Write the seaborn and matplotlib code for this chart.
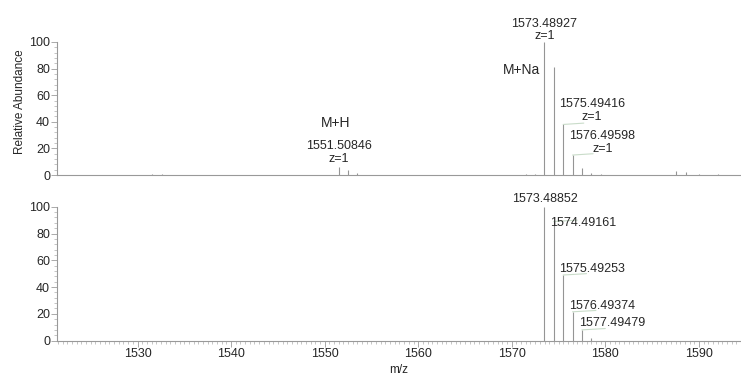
import numpy as np
import matplotlib.pyplot as plt
import seaborn as sns
from matplotlib.ticker import MultipleLocator

# measured spectrum (top) - m/z and relative abundance
top_mz = [1531.6, 1532.6, 1544.0, 1551.51, 1552.51, 1553.5, 1571.5, 1572.5,
          1573.489, 1574.49, 1575.494, 1576.496, 1577.5, 1578.5, 1579.5,
          1587.6, 1588.6, 1590.0, 1592.0]
top_int = [0.6, 0.5, 0.3, 6, 4, 1.2, 0.4, 0.6,
           100, 81, 38, 15, 5, 1.2, 0.6,
           3, 2, 0.5, 0.4]

# theoretical isotope pattern (bottom)
bot_mz = [1573.4885, 1574.4916, 1575.4925, 1576.4937, 1577.4948, 1578.5]
bot_int = [100, 89, 49, 21.5, 8, 2]

top_labels = ["1573.48927\nz=1", "1575.49416\nz=1", "1576.49598\nz=1", "1551.50846\nz=1"]
top_lab_x = [1573.5, 1578.6, 1579.7, 1551.5]
top_lab_y = [109, 48.5, 24.5, 17]
ion_labels = ["M+Na", "M+H"]
ion_x = [1571.0, 1551.2]
ion_y = [79, 39]

bot_labels = ["1573.48852", "1574.49161", "1575.49253", "1576.49374", "1577.49479"]
bot_lab_x = [1573.5, 1577.6, 1578.6, 1579.7, 1580.7]
bot_lab_y = [105.5, 88, 53.5, 26, 13.3]

sns.set_style("ticks")
plt.rcParams['font.family'] = ['Liberation Sans', 'DejaVu Sans']

fig = plt.figure(figsize=(7.41, 3.78), dpi=100)
ax1 = fig.add_axes([0.077, 0.537, 0.923, 0.352])
ax2 = fig.add_axes([0.077, 0.099, 0.923, 0.354])

stick = '#959595'
lead = '#c9dcc9'

for ax, mz, it in [(ax1, top_mz, top_int), (ax2, bot_mz, bot_int)]:
    ax.vlines(mz, 0, it, color=stick, lw=0.8)
    ax.set_xlim(1521.4, 1594.5)
    ax.set_ylim(0, 100)
    ax.yaxis.set_major_locator(MultipleLocator(20))
    ax.yaxis.set_minor_locator(MultipleLocator(4))
    ax.xaxis.set_major_locator(MultipleLocator(10))
    ax.xaxis.set_minor_locator(MultipleLocator(0.5))
    sns.despine(ax=ax)
    for s in ['left', 'bottom']:
        ax.spines[s].set_color('#999999')
        ax.spines[s].set_linewidth(0.8)
    ax.tick_params(axis='both', which='major', labelsize=9, length=4,
                   color='#aaaaaa', width=0.7, pad=1)
    ax.tick_params(axis='both', which='minor', length=2, color='#bbbbbb', width=0.6)

ax1.set_xticks([])
ax1.xaxis.set_minor_locator(MultipleLocator(100))
ax1.set_ylabel("Relative Abundance", fontsize=8.5)
ax1.yaxis.set_label_coords(-0.045, 0.55)
ax2.set_xlabel("m/z", fontsize=8.5, labelpad=3)

for t, x, y in zip(top_labels, top_lab_x, top_lab_y):
    ax1.text(x, y, t, ha='center', va='center', fontsize=9,
             linespacing=1.1, clip_on=False)
for t, x, y in zip(ion_labels, ion_x, ion_y):
    ax1.text(x, y, t, ha='center', va='center', fontsize=10, clip_on=False)
for t, x, y in zip(bot_labels, bot_lab_x, bot_lab_y):
    ax2.text(x, y, t, ha='center', va='center', fontsize=9, clip_on=False)

# leader lines from peak tops to labels
for mz, it in zip(top_mz[10:12], top_int[10:12]):
    ax1.plot([mz, mz + 2.2], [it, it + 1], color=lead, lw=0.8)
for mz, it in zip(bot_mz[1:5], bot_int[1:5]):
    ax2.plot([mz, mz + 2.5], [it, it + 1], color=lead, lw=0.8)

fig.savefig("out.png", dpi=100)
